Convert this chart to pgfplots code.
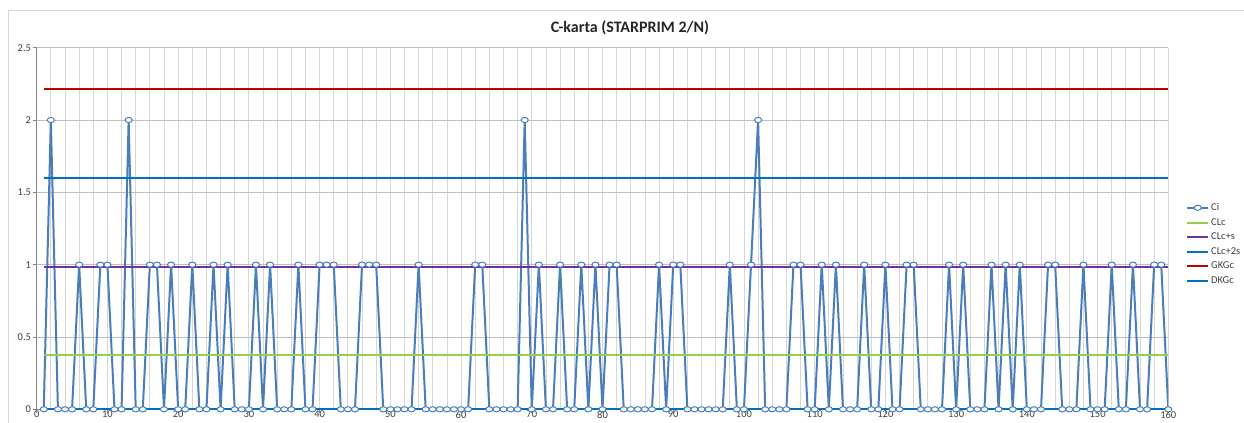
\documentclass[border=0pt]{standalone}
\usepackage{fontspec}
\setmainfont{Carlito}
\usepackage{pgfplots}
\pgfplotsset{compat=1.18}
\definecolor{ciblue}{RGB}{74,126,187}
\definecolor{clgreen}{RGB}{146,208,80}
\definecolor{clpurple}{RGB}{112,48,160}
\definecolor{clblue}{RGB}{0,112,192}
\definecolor{clred}{RGB}{192,0,0}
\definecolor{gridv}{RGB}{214,214,214}
\definecolor{gridh}{RGB}{191,191,191}
\definecolor{axgray}{RGB}{134,134,134}
\definecolor{txtgray}{RGB}{64,64,64}
\pgfdeclareplotmark{ell}{\pgfpathellipse{\pgfpointorigin}{\pgfqpoint{3.6pt}{0pt}}{\pgfqpoint{0pt}{2.6pt}}\pgfusepathqfillstroke}
\begin{document}
\begin{tikzpicture}
\useasboundingbox (0,0) rectangle (1244bp,423bp);
\draw[gridv, line width=0.8bp] (8bp,0) -- (8bp,413bp) -- (1244bp,413bp);
\node[font=\fontsize{16bp}{19bp}\selectfont\bfseries, text=black!85] at (630bp,395bp) {C-karta (STARPRIM 2/N)};
\begin{axis}[
  at={(36.7bp,13.7bp)}, anchor=south west,
  scale only axis, width=1131.6bp, height=361.6bp,
  xmin=0, xmax=160, ymin=0, ymax=2.5,
  xtick={0,10,...,160}, minor xtick={0,2,...,160},
  ytick={0,0.5,1,1.5,2,2.5},
  xmajorgrids, xminorgrids, ymajorgrids,
  major x grid style={gridv, line width=0.8bp},
  minor x grid style={gridv, line width=0.8bp},
  major y grid style={gridh, line width=0.8bp},
  axis x line*=bottom, axis y line*=left,
  axis line style={axgray, line width=0.8bp, -},
  tick align=outside, major tick length=4bp, minor tick length=0bp,
  tick style={axgray, line width=0.8bp},
  /pgf/number format/assume math mode=true,
  ticklabel style={font=\fontsize{10.5bp}{12bp}\selectfont, text=txtgray},
  xticklabel style={inner sep=0.5bp, yshift=3bp},
  yticklabel style={inner sep=1.5bp},
  legend style={at={(1.013,0.581)}, anchor=north west, draw=none, fill=none,
    font=\fontsize{10.5bp}{12bp}\selectfont, text=txtgray, row sep=2.3bp},
  legend cell align=left,
  legend image code/.code={\draw[mark repeat=2,mark phase=2,#1] plot coordinates {(0bp,0bp)(10.5bp,0bp)(21bp,0bp)};},
]
\addplot[ciblue, line width=2bp, mark=ell, mark options={fill=white, line width=1bp, solid}] coordinates {
(1,0)(2,2)(3,0)(4,0)(5,0)(6,1)(7,0)(8,0)(9,1)(10,1)
(11,0)(12,0)(13,2)(14,0)(15,0)(16,1)(17,1)(18,0)(19,1)(20,0)
(21,0)(22,1)(23,0)(24,0)(25,1)(26,0)(27,1)(28,0)(29,0)(30,0)
(31,1)(32,0)(33,1)(34,0)(35,0)(36,0)(37,1)(38,0)(39,0)(40,1)
(41,1)(42,1)(43,0)(44,0)(45,0)(46,1)(47,1)(48,1)(49,0)(50,0)
(51,0)(52,0)(53,0)(54,1)(55,0)(56,0)(57,0)(58,0)(59,0)(60,0)
(61,0)(62,1)(63,1)(64,0)(65,0)(66,0)(67,0)(68,0)(69,2)(70,0)
(71,1)(72,0)(73,0)(74,1)(75,0)(76,0)(77,1)(78,0)(79,1)(80,0)
(81,1)(82,1)(83,0)(84,0)(85,0)(86,0)(87,0)(88,1)(89,0)(90,1)
(91,1)(92,0)(93,0)(94,0)(95,0)(96,0)(97,0)(98,1)(99,0)(100,0)
(101,1)(102,2)(103,0)(104,0)(105,0)(106,0)(107,1)(108,1)(109,0)(110,0)
(111,1)(112,0)(113,1)(114,0)(115,0)(116,0)(117,1)(118,0)(119,0)(120,1)
(121,0)(122,0)(123,1)(124,1)(125,0)(126,0)(127,0)(128,0)(129,1)(130,0)
(131,1)(132,0)(133,0)(134,0)(135,1)(136,0)(137,1)(138,0)(139,1)(140,0)
(141,0)(142,0)(143,1)(144,1)(145,0)(146,0)(147,0)(148,1)(149,0)(150,0)
(151,0)(152,1)(153,0)(154,0)(155,1)(156,0)(157,0)(158,1)(159,1)(160,0)
};
\addlegendentry{Ci}
\addplot[clgreen, line width=2bp] coordinates {(1,0.375)(160,0.375)};
\addlegendentry{CLc}
\addplot[clpurple, line width=2bp] coordinates {(1,0.987)(160,0.987)};
\addlegendentry{CLc+s}
\addplot[clblue, line width=2bp] coordinates {(1,1.600)(160,1.600)};
\addlegendentry{CLc+2s}
\addplot[clred, line width=2bp] coordinates {(1,2.212)(160,2.212)};
\addlegendentry{GKGc}
\addplot[clblue, line width=2bp] coordinates {(1,0)(160,0)};
\addlegendentry{DKGc}
\end{axis}
\end{tikzpicture}
\end{document}
